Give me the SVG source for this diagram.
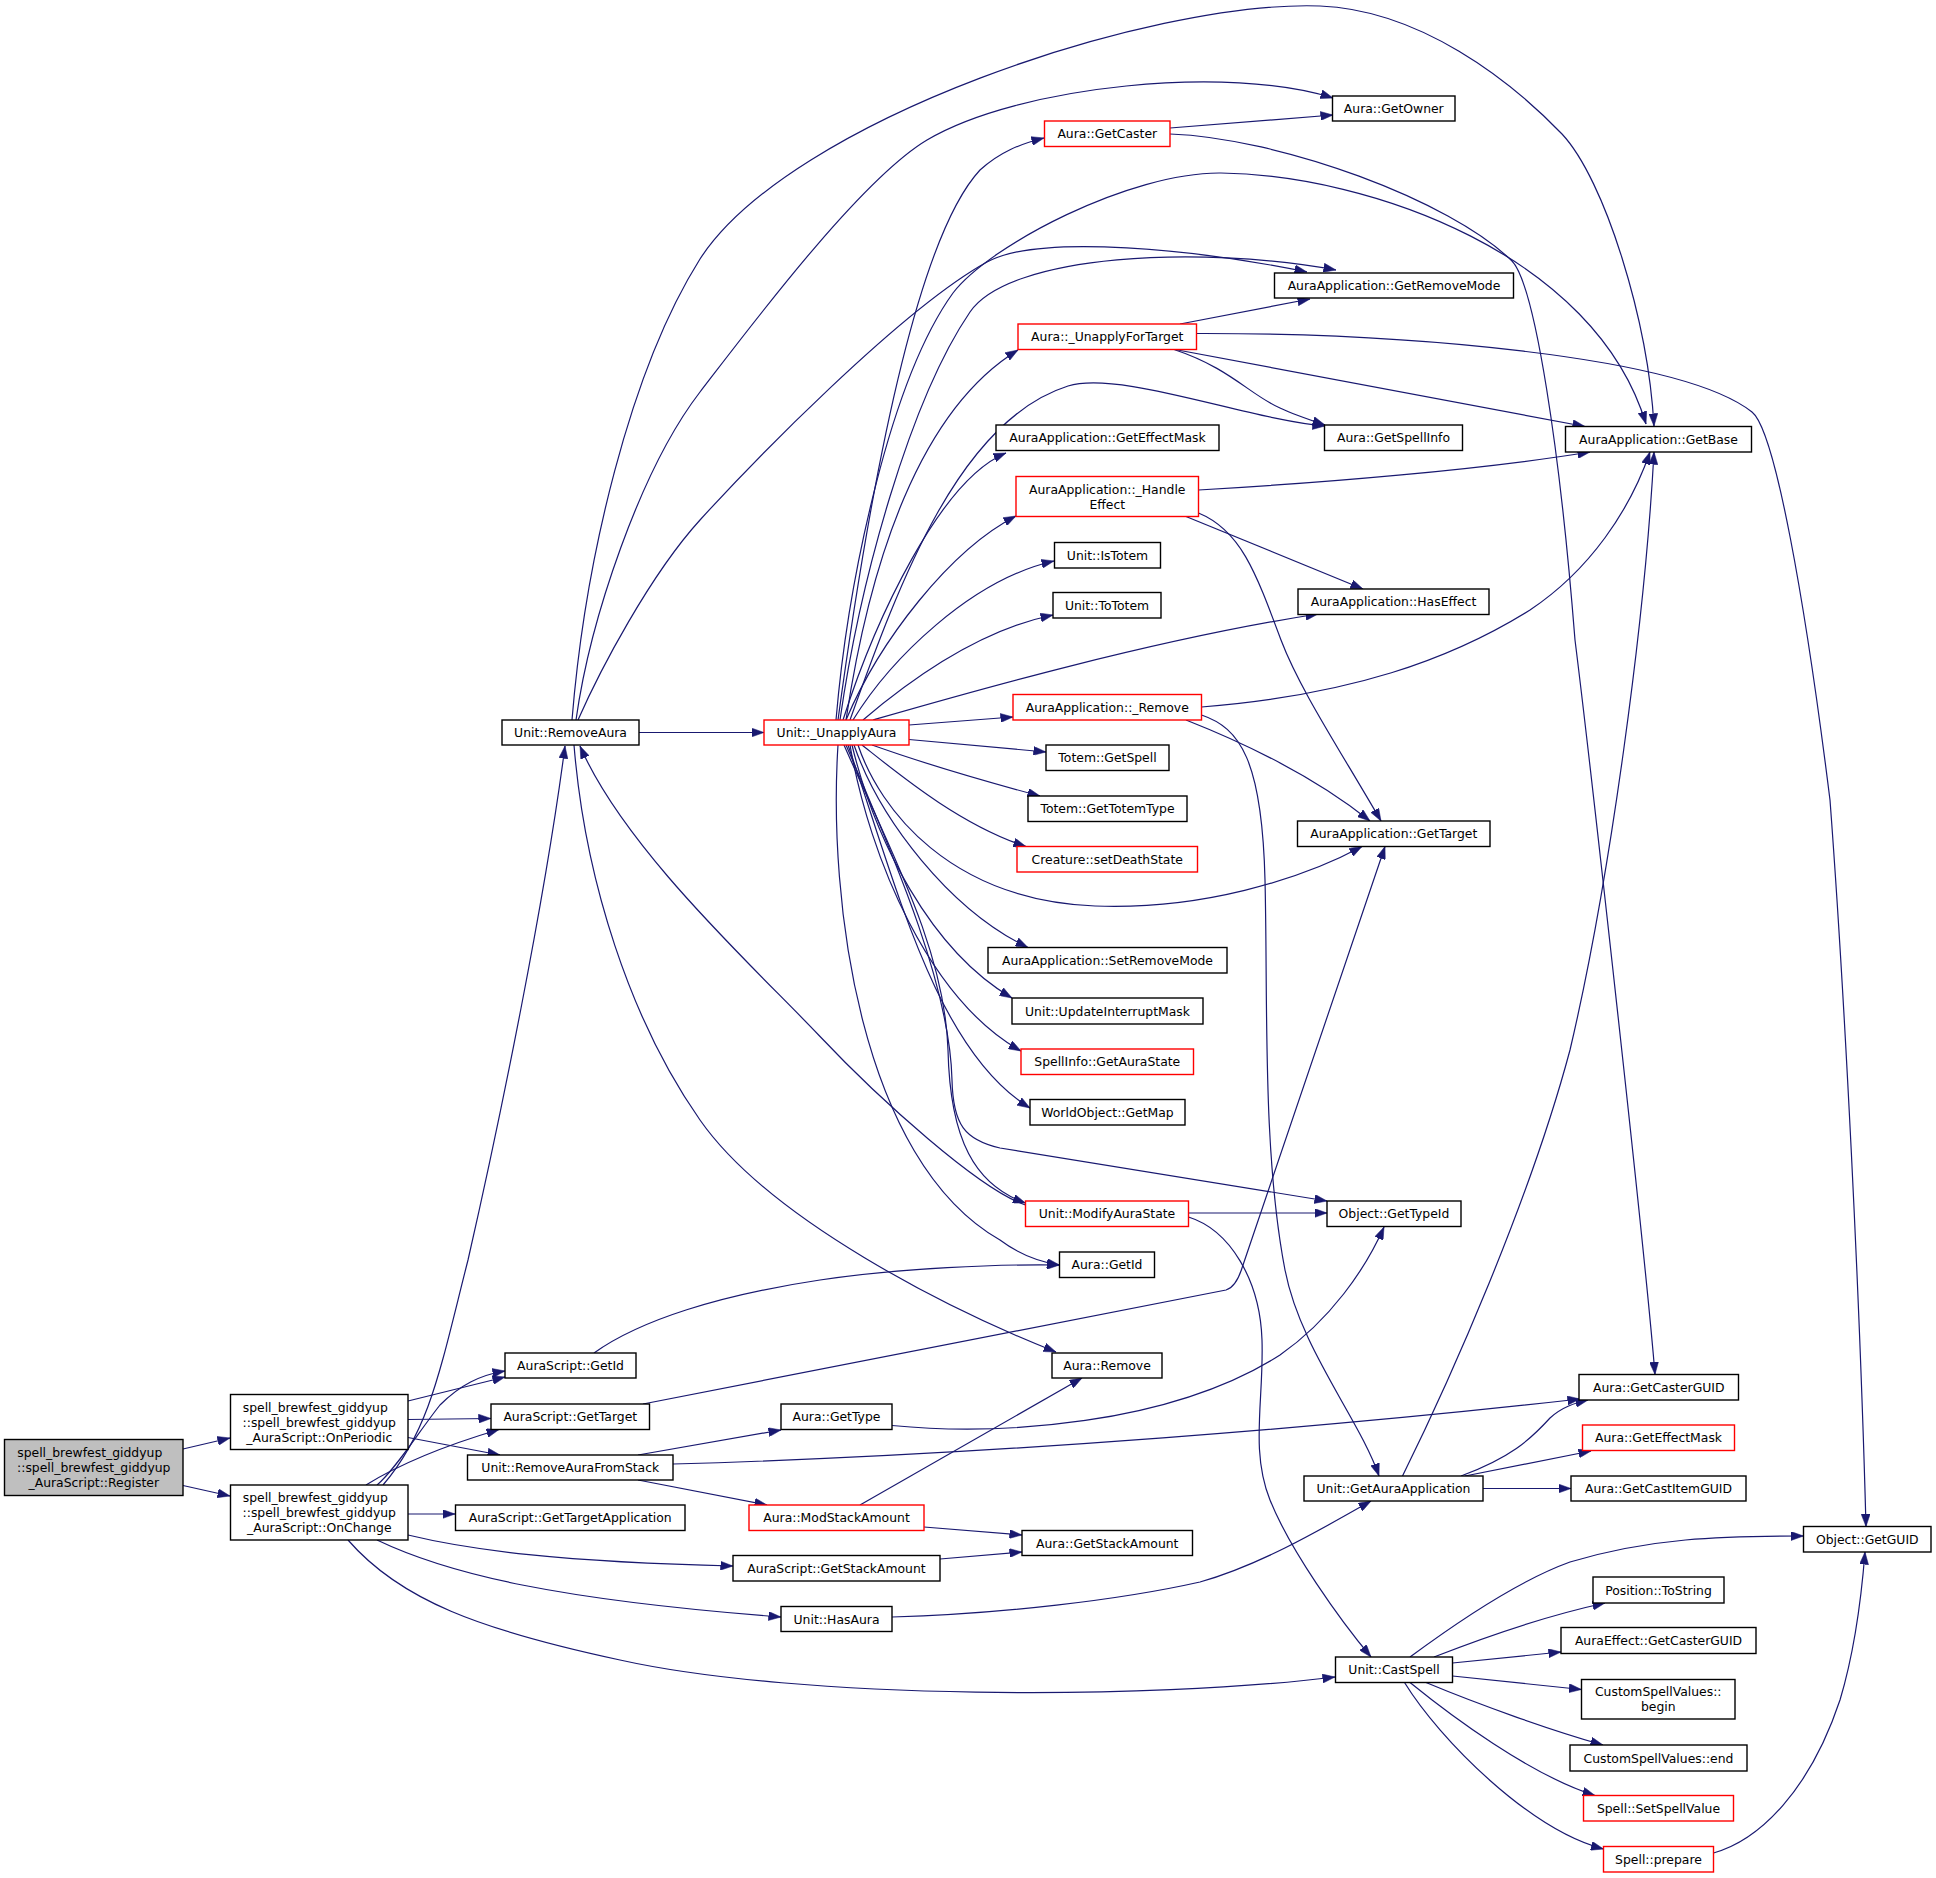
<svg xmlns="http://www.w3.org/2000/svg" width="1936" height="1878" viewBox="0 0 1936 1878">
<style>
.e{fill:none;stroke:#191970;stroke-width:1.2;marker-end:url(#arr)}
.n rect{fill:#fff;stroke:#000;stroke-width:1.4}
.r rect{fill:#fff;stroke:#ff0000;stroke-width:1.4}
.g rect{fill:#bfbfbf;stroke:#000;stroke-width:1.4}
text{font-family:"DejaVu Sans","Liberation Sans",sans-serif;font-size:12.4px;fill:#000;text-anchor:middle}
</style>
<defs>
<marker id="arr" viewBox="0 0 12.5 9" refX="12.5" refY="4.5" markerWidth="12.5" markerHeight="9" markerUnits="userSpaceOnUse" orient="auto"><path d="M0,0 L12.5,4.5 L0,9 Z" fill="#191970" stroke="#191970" stroke-width="0.5"/></marker>
</defs>
<rect x="0" y="0" width="1936" height="1878" fill="#fff"/>
<g id="edges">
<path class="e" d="M183,1449 L230,1438"/>
<path class="e" d="M183,1485.5 L230,1496"/>
<path class="e" d="M408,1401 L505,1377"/>
<path class="e" d="M408,1419.5 L491,1418.5"/>
<path class="e" d="M408,1437.5 L500,1455"/>
<path class="e" d="M383,1485 C430,1430 440,1370 468,1260 C500,1120 545,900 565,746"/>
<path class="e" d="M377,1485 C395,1470 420,1430 440,1405 C460,1385 480,1375 505,1371"/>
<path class="e" d="M366,1485 C390,1470 430,1450 499,1429.5"/>
<path class="e" d="M408,1514 L455,1514"/>
<path class="e" d="M408,1535 C470,1550 560,1562 733,1566"/>
<path class="e" d="M377,1540 C450,1575 560,1600 781,1617"/>
<path class="e" d="M348,1540 C400,1600 480,1630 620,1660 C800,1700 1150,1700 1335,1677"/>
<path class="e" d="M639,732.5 L764,732.5"/>
<path class="e" d="M572,720 C585,560 630,370 700,259 C790,120 1150,0 1320,6 C1420,10 1510,80 1562,134 C1605,180 1648,320 1654,426"/>
<path class="e" d="M576,720 C590,620 640,470 700,392 C750,327 860,180 927,140 C1020,85 1230,65 1333,98"/>
<path class="e" d="M578,720 C600,670 650,575 700,520 C750,465 900,310 987,262 C1040,233 1200,250 1307,272"/>
<path class="e" d="M574,745 C585,880 630,1020 700,1120 C770,1220 950,1310 1056,1352"/>
<path class="e" d="M838,720 C868,500 915,240 980,170 C1000,152 1020,144 1044,138"/>
<path class="e" d="M836,720 C848,580 890,380 953,293 C990,245 1130,172 1221,173 C1370,175 1595,255 1646,424"/>
<path class="e" d="M840,720 C860,580 910,400 970,312 C1010,254 1200,245 1336,270"/>
<path class="e" d="M846,720 C870,560 920,410 1018,350"/>
<path class="e" d="M850,720 C900,580 960,420 1068,386 C1120,370 1250,420 1325,426"/>
<path class="e" d="M843,720 C875,620 940,480 1006,453"/>
<path class="e" d="M846,720 C880,640 950,550 1016,516"/>
<path class="e" d="M853,720 C890,660 970,580 1054,561"/>
<path class="e" d="M863,720 C910,680 980,630 1053,615"/>
<path class="e" d="M873,720 C960,695 1150,640 1318,614"/>
<path class="e" d="M909,725 L1013,717"/>
<path class="e" d="M909,739.5 L1046,752"/>
<path class="e" d="M872,745 C920,762 980,780 1040,796"/>
<path class="e" d="M862,745 C900,775 960,825 1026,846.5"/>
<path class="e" d="M858,745 C880,810 950,900 1095,906 C1200,910 1300,880 1362,846.5"/>
<path class="e" d="M854,745 C880,820 950,910 1028,947.5"/>
<path class="e" d="M852,745 C875,840 930,950 1012,998"/>
<path class="e" d="M850,745 C870,860 930,1000 1021,1051"/>
<path class="e" d="M848,745 C895,880 935,1050 1030,1108"/>
<path class="e" d="M846,745 C900,870 950,990 952,1080 C953,1125 965,1140 1000,1148 L1327,1201"/>
<path class="e" d="M844,745 C890,850 945,950 948,1050 C950,1140 975,1185 1025.5,1203"/>
<path class="e" d="M838,745 C828,900 860,1160 1000,1240 C1020,1255 1040,1262 1059.5,1265"/>
<path class="e" d="M1025.5,1205 C980,1190 880,1100 818.6,1035 C757,970 625,850 580,746"/>
<path class="e" d="M1188.5,1213 L1327,1213"/>
<path class="e" d="M1188.5,1217 C1230,1230 1260,1280 1262,1340 C1264,1400 1250,1450 1270,1500 C1290,1550 1340,1620 1371,1657"/>
<path class="e" d="M1170,128 L1333,115"/>
<path class="e" d="M1170,134 C1280,138 1450,200 1512,261 C1535,285 1560,450 1575,640 C1590,760 1645,1250 1655,1374.5"/>
<path class="e" d="M1180,324 L1310,299"/>
<path class="e" d="M1175,349.5 L1585,426.5"/>
<path class="e" d="M1174,349.5 C1230,368 1250,395 1280,408 C1295,415 1310,420 1325,425"/>
<path class="e" d="M1196.5,333.5 C1400,333 1680,355 1752,412 C1775,430 1805,600 1830,800 C1845,1000 1860,1300 1866,1526.5"/>
<path class="e" d="M1198.5,490 C1320,483 1480,470 1590,452"/>
<path class="e" d="M1186,516.5 L1363,589"/>
<path class="e" d="M1198.5,513 C1240,530 1255,570 1281,640 C1300,690 1340,750 1381,821"/>
<path class="e" d="M1201.5,707 C1350,695 1450,660 1530,610 C1590,570 1630,510 1650,452"/>
<path class="e" d="M1186,720 Q1300,765 1370,821"/>
<path class="e" d="M1201.5,715 C1240,728 1262,760 1265,880 C1268,1000 1262,1150 1285,1270 C1300,1348 1360,1420 1379,1476"/>
<path class="e" d="M594,1353 C640,1320 720,1295 820,1280 C900,1268 1000,1264 1059.5,1265"/>
<path class="e" d="M643,1404 L1226,1290 Q1236,1287 1242,1268 L1385,846.5"/>
<path class="e" d="M638,1455 L781,1430"/>
<path class="e" d="M638,1480 L767,1505"/>
<path class="e" d="M673,1464 C1000,1455 1350,1425 1580,1399"/>
<path class="e" d="M892,1425.5 C1000,1436 1170,1425 1280,1355 C1330,1320 1365,1270 1384,1227"/>
<path class="e" d="M860,1505 L1082,1378"/>
<path class="e" d="M924,1527 L1022,1535"/>
<path class="e" d="M940,1559 L1022,1552"/>
<path class="e" d="M892,1617 C1000,1614 1120,1600 1200,1582 C1260,1565 1320,1530 1371,1501"/>
<path class="e" d="M1402.5,1476 C1450,1380 1530,1200 1570,1050 C1610,880 1645,620 1654,452"/>
<path class="e" d="M1461,1476 C1510,1458 1530,1440 1550,1418 C1562,1407 1575,1403 1588,1400"/>
<path class="e" d="M1465,1476 L1591,1451"/>
<path class="e" d="M1483,1488.5 L1571,1488.5"/>
<path class="e" d="M1410,1657 C1460,1620 1520,1580 1570,1562 C1650,1538 1720,1536 1803.5,1536"/>
<path class="e" d="M1434,1657 C1490,1635 1550,1615 1605,1603"/>
<path class="e" d="M1452.5,1663 L1561,1652"/>
<path class="e" d="M1452.5,1676 L1581.5,1689.5"/>
<path class="e" d="M1426,1682.5 C1480,1705 1550,1730 1603,1745"/>
<path class="e" d="M1410,1682.5 C1450,1715 1530,1775 1595,1795.5"/>
<path class="e" d="M1404.5,1682.5 C1440,1740 1530,1830 1603.5,1849"/>
<path class="e" d="M1713.5,1853 C1760,1840 1810,1790 1840,1700 C1855,1650 1862,1590 1865,1552"/>
</g>
<g id="n0" class="g"><rect x="4.5" y="1439.5" width="178.5" height="56"/><text x="89.75" y="1457">spell_brewfest_giddyup</text><text x="93.75" y="1472">::spell_brewfest_giddyup</text><text x="93.75" y="1487">_AuraScript::Register</text></g>
<g id="n1" class="n"><rect x="230.5" y="1394.5" width="177.5" height="55"/><text x="315.25" y="1411.5">spell_brewfest_giddyup</text><text x="319.25" y="1426.5">::spell_brewfest_giddyup</text><text x="319.25" y="1441.5">_AuraScript::OnPeriodic</text></g>
<g id="n2" class="n"><rect x="230.5" y="1485" width="177.5" height="55"/><text x="315.25" y="1502">spell_brewfest_giddyup</text><text x="319.25" y="1517">::spell_brewfest_giddyup</text><text x="319.25" y="1532">_AuraScript::OnChange</text></g>
<g id="n3" class="n"><rect x="502" y="720" width="137" height="25"/><text x="570.5" y="737">Unit::RemoveAura</text></g>
<g id="n4" class="n"><rect x="505" y="1353" width="131" height="25"/><text x="570.5" y="1370">AuraScript::GetId</text></g>
<g id="n5" class="n"><rect x="491" y="1404" width="158.5" height="25.5"/><text x="570.25" y="1421.25">AuraScript::GetTarget</text></g>
<g id="n6" class="n"><rect x="467.5" y="1455" width="205.5" height="25"/><text x="570.25" y="1472">Unit::RemoveAuraFromStack</text></g>
<g id="n7" class="n"><rect x="455.5" y="1505" width="229.5" height="25.5"/><text x="570.25" y="1522.25">AuraScript::GetTargetApplication</text></g>
<g id="n8" class="r"><rect x="764" y="720" width="145" height="25"/><text x="836.5" y="737">Unit::_UnapplyAura</text></g>
<g id="n9" class="n"><rect x="1332.5" y="96" width="122.5" height="25"/><text x="1393.75" y="113">Aura::GetOwner</text></g>
<g id="n10" class="r"><rect x="1044.5" y="121" width="125.5" height="25.5"/><text x="1107.25" y="138.25">Aura::GetCaster</text></g>
<g id="n11" class="n"><rect x="1274.5" y="273" width="239" height="25"/><text x="1394" y="290">AuraApplication::GetRemoveMode</text></g>
<g id="n12" class="r"><rect x="1018" y="324" width="178.5" height="25.5"/><text x="1107.25" y="341.25">Aura::_UnapplyForTarget</text></g>
<g id="n13" class="n"><rect x="1324.5" y="425" width="138" height="25.5"/><text x="1393.5" y="442.25">Aura::GetSpellInfo</text></g>
<g id="n14" class="n"><rect x="1565.5" y="426.5" width="186" height="25.5"/><text x="1658.5" y="443.75">AuraApplication::GetBase</text></g>
<g id="n15" class="n"><rect x="996" y="425" width="223" height="25.5"/><text x="1107.5" y="442.25">AuraApplication::GetEffectMask</text></g>
<g id="n16" class="r"><rect x="1016" y="476.5" width="182.5" height="40"/><text x="1107.25" y="493.5">AuraApplication::_Handle</text><text x="1107.25" y="508.5">Effect</text></g>
<g id="n17" class="n"><rect x="1054.5" y="542.5" width="106" height="25.5"/><text x="1107.5" y="559.75">Unit::IsTotem</text></g>
<g id="n18" class="n"><rect x="1053" y="592.5" width="108" height="25.5"/><text x="1107" y="609.75">Unit::ToTotem</text></g>
<g id="n19" class="n"><rect x="1298" y="589" width="191" height="25.5"/><text x="1393.5" y="606.25">AuraApplication::HasEffect</text></g>
<g id="n20" class="r"><rect x="1013" y="694.5" width="188.5" height="25.5"/><text x="1107.25" y="711.75">AuraApplication::_Remove</text></g>
<g id="n21" class="n"><rect x="1046" y="745" width="123" height="25.5"/><text x="1107.5" y="762.25">Totem::GetSpell</text></g>
<g id="n22" class="n"><rect x="1028" y="796" width="159" height="25.5"/><text x="1107.5" y="813.25">Totem::GetTotemType</text></g>
<g id="n23" class="r"><rect x="1017" y="846.5" width="180.5" height="25.5"/><text x="1107.25" y="863.75">Creature::setDeathState</text></g>
<g id="n24" class="n"><rect x="1297.5" y="821" width="192.5" height="25.5"/><text x="1393.75" y="838.25">AuraApplication::GetTarget</text></g>
<g id="n25" class="n"><rect x="988" y="947.5" width="239" height="25.5"/><text x="1107.5" y="964.75">AuraApplication::SetRemoveMode</text></g>
<g id="n26" class="n"><rect x="1012" y="998" width="191" height="26"/><text x="1107.5" y="1015.5">Unit::UpdateInterruptMask</text></g>
<g id="n27" class="r"><rect x="1021" y="1049" width="172.5" height="25.5"/><text x="1107.25" y="1066.25">SpellInfo::GetAuraState</text></g>
<g id="n28" class="n"><rect x="1030" y="1099.5" width="155" height="25.5"/><text x="1107.5" y="1116.75">WorldObject::GetMap</text></g>
<g id="n29" class="r"><rect x="1025.5" y="1201" width="163" height="25.5"/><text x="1107" y="1218.25">Unit::ModifyAuraState</text></g>
<g id="n30" class="n"><rect x="1327" y="1201" width="134" height="25.5"/><text x="1394" y="1218.25">Object::GetTypeId</text></g>
<g id="n31" class="n"><rect x="1059.5" y="1252" width="95" height="25.5"/><text x="1107" y="1269.25">Aura::GetId</text></g>
<g id="n32" class="n"><rect x="1052" y="1353" width="110" height="25"/><text x="1107" y="1370">Aura::Remove</text></g>
<g id="n33" class="n"><rect x="781" y="1404" width="111" height="25.5"/><text x="836.5" y="1421.25">Aura::GetType</text></g>
<g id="n34" class="r"><rect x="749" y="1505" width="175" height="25.5"/><text x="836.5" y="1522.25">Aura::ModStackAmount</text></g>
<g id="n35" class="n"><rect x="1022" y="1530.5" width="170.5" height="25"/><text x="1107.25" y="1547.5">Aura::GetStackAmount</text></g>
<g id="n36" class="n"><rect x="733" y="1555.5" width="207" height="25.5"/><text x="836.5" y="1572.75">AuraScript::GetStackAmount</text></g>
<g id="n37" class="n"><rect x="781" y="1606.5" width="111" height="25"/><text x="836.5" y="1623.5">Unit::HasAura</text></g>
<g id="n38" class="n"><rect x="1579" y="1374.5" width="159.5" height="25.5"/><text x="1658.75" y="1391.75">Aura::GetCasterGUID</text></g>
<g id="n39" class="r"><rect x="1582.5" y="1425" width="152" height="25.5"/><text x="1658.5" y="1442.25">Aura::GetEffectMask</text></g>
<g id="n40" class="n"><rect x="1304" y="1476" width="179" height="25"/><text x="1393.5" y="1493">Unit::GetAuraApplication</text></g>
<g id="n41" class="n"><rect x="1571" y="1476" width="175" height="25"/><text x="1658.5" y="1493">Aura::GetCastItemGUID</text></g>
<g id="n42" class="n"><rect x="1803.5" y="1526.5" width="127.5" height="25.5"/><text x="1867.25" y="1543.75">Object::GetGUID</text></g>
<g id="n43" class="n"><rect x="1593" y="1577" width="131" height="26"/><text x="1658.5" y="1594.5">Position::ToString</text></g>
<g id="n44" class="n"><rect x="1561" y="1627.5" width="195" height="26"/><text x="1658.5" y="1645">AuraEffect::GetCasterGUID</text></g>
<g id="n45" class="n"><rect x="1335.5" y="1657" width="117" height="25.5"/><text x="1394" y="1674.25">Unit::CastSpell</text></g>
<g id="n46" class="n"><rect x="1581.5" y="1679.5" width="153.5" height="39.5"/><text x="1658.25" y="1696.25">CustomSpellValues::</text><text x="1658.25" y="1711.25">begin</text></g>
<g id="n47" class="n"><rect x="1570" y="1745" width="177" height="26"/><text x="1658.5" y="1762.5">CustomSpellValues::end</text></g>
<g id="n48" class="r"><rect x="1583.5" y="1795.5" width="150" height="25.5"/><text x="1658.5" y="1812.75">Spell::SetSpellValue</text></g>
<g id="n49" class="r"><rect x="1603.5" y="1846.5" width="110" height="25.5"/><text x="1658.5" y="1863.75">Spell::prepare</text></g>
</svg>
